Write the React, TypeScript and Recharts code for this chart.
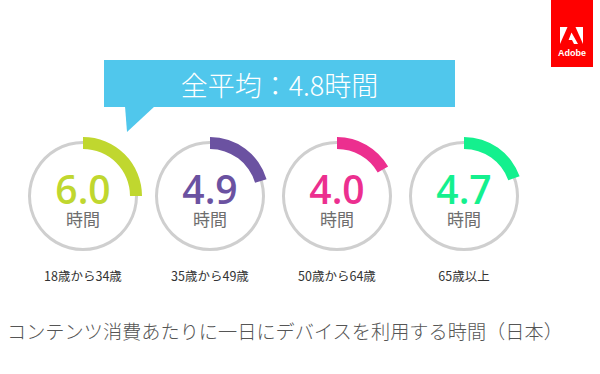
import React from 'react';
import { PieChart, Pie, Cell } from 'recharts';

const categories = ['18歳から34歳', '35歳から49歳', '50歳から64歳', '65歳以上'];
const hours = [6.0, 4.9, 4.0, 4.7];
const hourLabels = ['6.0', '4.9', '4.0', '4.7'];
const seriesColors = ['#C0D72F', '#6B52A1', '#EC2F8F', '#14F08E'];
const dayTotal = 24;
const averageText = '全平均：4.8時間';
const unitText = '時間';
const titleText = 'コンテンツ消費あたりに一日にデバイスを利用する時間（日本）';

const W = 600;
const H = 374;
const centersX = [83, 210, 337, 464];
const CY = 196;
const CJK = '"Noto Sans CJK JP", "Noto Sans", sans-serif';

export default function App() {
  return (
    <div style={{ position: 'absolute', left: 0, top: 0, width: W, height: H, background: '#fff', overflow: 'hidden' }}>
      <PieChart width={W} height={H} margin={{ top: 0, right: 0, bottom: 0, left: 0 }} style={{ position: 'absolute', left: 0, top: 0 }}>
        {hours.map((h, i) => (
          <Pie
            key={'bg' + i}
            data={[{ name: 'bg', value: dayTotal }]}
            dataKey="value"
            cx={centersX[i]}
            cy={CY}
            innerRadius={52}
            outerRadius={55}
            startAngle={90}
            endAngle={-270}
            stroke="none"
            fill="#CFCFCF"
            isAnimationActive={false}
          />
        ))}
        {hours.map((h, i) => (
          <Pie
            key={'val' + i}
            data={[
              { name: categories[i], value: h },
              { name: 'rest', value: dayTotal - h },
            ]}
            dataKey="value"
            cx={centersX[i]}
            cy={CY}
            innerRadius={47}
            outerRadius={59}
            startAngle={90}
            endAngle={-270}
            stroke="none"
            paddingAngle={0}
            isAnimationActive={false}
          >
            <Cell fill={seriesColors[i]} />
            <Cell fill="rgba(0,0,0,0)" />
          </Pie>
        ))}
      </PieChart>

      <svg width={W} height={H} style={{ position: 'absolute', left: 0, top: 0 }}>
        {hours.map((h, i) => (
          <g key={'txt' + i}>
            <text
              x={centersX[i]}
              y={204}
              textAnchor="middle"
              fontFamily='"Open Sans", sans-serif'
              fontWeight={600}
              fontSize={39}
              fill={seriesColors[i]}
            >
              {hourLabels[i]}
            </text>
            <text
              x={centersX[i]}
              y={218.5}
              textAnchor="middle"
              dominantBaseline="central"
              fontFamily={CJK}
              fontSize={17}
              fill="#6E6E6E"
            >
              {unitText}
            </text>
            <text
              x={centersX[i]}
              y={275.5}
              textAnchor="middle"
              dominantBaseline="central"
              fontFamily={CJK}
              fontSize={12.5}
              fill="#333"
            >
              {categories[i]}
            </text>
          </g>
        ))}

        <rect x={104} y={60} width={351} height={47} fill="#50C7EC" />
        <polygon points="125,106 127,132 155,106" fill="#50C7EC" />
        <text
          x={279.5}
          y={84.5}
          textAnchor="middle"
          dominantBaseline="central"
          fontFamily={CJK}
          fontWeight={300}
          fontSize={27}
          fill="#fff"
        >
          {averageText}
        </text>

        <rect x={551} y={0} width={42} height={67} fill="#FF0000" />
        <polygon points="560,27 567.5,27 560,44" fill="#fff" />
        <polygon points="575.5,27 583,27 583,44" fill="#fff" />
        <polygon points="571.5,32.5 578,44 574,44 572,40 568.6,40" fill="#fff" />
        <text x={572} y={55.5} textAnchor="middle" fill="#fff" fontFamily='"Liberation Sans", Arial, sans-serif' fontWeight="bold" fontSize={9}>Adobe</text>

        <text
          x={7}
          y={331}
          dominantBaseline="central"
          fontFamily={CJK}
          fontWeight={300}
          fontSize={19.2}
          fill="#555"
        >
          {titleText}
        </text>
      </svg>
    </div>
  );
}
